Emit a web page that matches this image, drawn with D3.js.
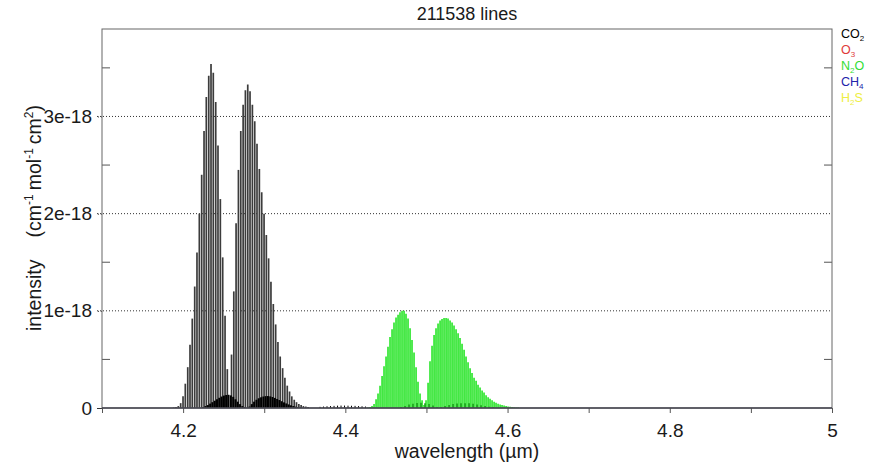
<!DOCTYPE html>
<head>
  <meta charset="utf-8">
  <script src="https://d3js.org/d3.v7.min.js"></script>
  <style>
    body { margin: 0; background: #fff; }
    text { font-family: "Liberation Sans", Arial, sans-serif; fill: #1a1a1a; }
    .tick text { font-size: 19px; }
    text.title { font-size: 18px; }
    text.axisTitle { font-size: 19.5px; }
    text.legend { font-size: 12.5px; }
    .grid line { stroke: #333; stroke-dasharray: 1,2; }
    path.domain { display: none; }
  </style>
</head>

<body>
  <script>
    // CO2 main band (R and P branch), wavelength in um, intensity in 1e-18
    const co2Wave = [4.1884, 4.1912, 4.1941, 4.1970, 4.1999, 4.2027, 4.2057, 4.2085, 4.2113, 4.2143,
      4.2171, 4.2200, 4.2229, 4.2258, 4.2286, 4.2316, 4.2344, 4.2372, 4.2402, 4.2430,
      4.2459, 4.2488, 4.2517, 4.2545,
      4.2597, 4.2625, 4.2653, 4.2682, 4.2711, 4.2740, 4.2768, 4.2797, 4.2825, 4.2854,
      4.2883, 4.2911, 4.2940, 4.2969, 4.2998, 4.3026, 4.3054, 4.3083, 4.3112, 4.3141,
      4.3169, 4.3197, 4.3227, 4.3255, 4.3284, 4.3312, 4.3340, 4.3370, 4.3398, 4.3427,
      4.3455, 4.3483, 4.3513, 4.3541];
    const co2Int = [0.005, 0.01, 0.02, 0.05, 0.12, 0.25, 0.42, 0.65, 0.92, 1.25,
      1.6, 2.0, 2.4, 2.85, 3.2, 3.42, 3.54, 3.45, 3.15, 2.7,
      2.15, 1.55, 0.95, 0.4,
      0.55, 1.2, 1.9, 2.45, 2.85, 3.12, 3.27, 3.33, 3.26, 3.12,
      2.95, 2.72, 2.46, 2.22, 2.0, 1.78, 1.54, 1.3, 1.07, 0.86,
      0.68, 0.53, 0.41, 0.31, 0.23, 0.17, 0.12, 0.085, 0.06, 0.04,
      0.03, 0.02, 0.015, 0.01];

    // CO2 hot band humps
    const co2HotWave = [4.2248, 4.2276, 4.2305, 4.2333, 4.2361, 4.2390, 4.2418, 4.2446, 4.2475, 4.2503,
      4.2531, 4.2560, 4.2588, 4.2617, 4.2645, 4.2673, 4.2702, 4.2730, 4.2758,
      4.2819, 4.2847, 4.2875, 4.2904, 4.2932, 4.2961, 4.2989, 4.3017, 4.3046, 4.3074,
      4.3102, 4.3131, 4.3159, 4.3187, 4.3216, 4.3244, 4.3272, 4.3301, 4.3329, 4.3358,
      4.3386, 4.3414, 4.3443];
    const co2HotInt = [0.01, 0.02, 0.03, 0.045, 0.06, 0.075, 0.09, 0.105, 0.118, 0.128,
      0.134, 0.136, 0.13, 0.115, 0.09, 0.065, 0.04, 0.02, 0.008,
      0.015, 0.04, 0.065, 0.085, 0.1, 0.11, 0.118, 0.122, 0.123, 0.12,
      0.113, 0.104, 0.093, 0.082, 0.07, 0.058, 0.047, 0.037, 0.028, 0.02,
      0.014, 0.009, 0.005];

    // weak CO2 lines between the bands
    const co2WeakWave = [4.3688, 4.3731, 4.3774, 4.3817, 4.3861, 4.3904, 4.3947, 4.3990, 4.4033, 4.4076,
      4.4120, 4.4163, 4.4206, 4.4249];
    const co2WeakInt = [0.012, 0.015, 0.018, 0.02, 0.022, 0.024, 0.025, 0.025, 0.024, 0.023,
      0.022, 0.02, 0.018, 0.015];

    // N2O band
    const n2oWave = [4.4280, 4.4305, 4.4329, 4.4354, 4.4379, 4.4403, 4.4428, 4.4453, 4.4477, 4.4502,
      4.4526, 4.4551, 4.4576, 4.4600, 4.4625, 4.4650, 4.4674, 4.4699, 4.4724, 4.4748,
      4.4773, 4.4798, 4.4822, 4.4847, 4.4872, 4.4896, 4.4921, 4.4946, 4.4970,
      4.4995, 4.5020, 4.5044, 4.5069, 4.5094, 4.5118, 4.5143, 4.5168, 4.5192, 4.5217,
      4.5242, 4.5266, 4.5291, 4.5316, 4.5340, 4.5365, 4.5390, 4.5414, 4.5439, 4.5464,
      4.5488, 4.5513, 4.5538, 4.5562, 4.5587, 4.5612, 4.5636, 4.5661, 4.5686, 4.5710,
      4.5735, 4.5760, 4.5784, 4.5809, 4.5834, 4.5858, 4.5883, 4.5908, 4.5932, 4.5957,
      4.5982, 4.6006, 4.6031, 4.6056, 4.6080, 4.6105, 4.6130];
    const n2oInt = [0.005, 0.01, 0.02, 0.04, 0.09, 0.15, 0.23, 0.33, 0.43, 0.53,
      0.63, 0.73, 0.81, 0.88, 0.93, 0.96, 0.985, 1.0, 1.0, 0.97,
      0.92, 0.82, 0.70, 0.57, 0.42, 0.27, 0.15, 0.08, 0.03,
      0.08, 0.26, 0.48, 0.64, 0.75, 0.82, 0.87, 0.90, 0.915, 0.925,
      0.925, 0.92, 0.90, 0.88, 0.85, 0.81, 0.77, 0.72, 0.66, 0.60,
      0.53, 0.47, 0.41, 0.36, 0.31, 0.28, 0.24, 0.21, 0.18, 0.16,
      0.13, 0.11, 0.095, 0.08, 0.065, 0.055, 0.045, 0.037, 0.03, 0.025,
      0.02, 0.016, 0.013, 0.01, 0.008, 0.006, 0.004];

    // N2O hot band humps
    const n2oHotWave = [4.4687, 4.4736, 4.4785, 4.4834, 4.4884, 4.4933, 4.4983, 4.5032, 4.5081, 4.5131,
      4.5180, 4.5229, 4.5279, 4.5328, 4.5377, 4.5426, 4.5476, 4.5525, 4.5575, 4.5624,
      4.5673, 4.5723, 4.5772, 4.5821];
    const n2oHotInt = [0.01, 0.02, 0.035, 0.045, 0.052, 0.055, 0.05, 0.04, 0.025, 0.01,
      0.01, 0.02, 0.03, 0.04, 0.046, 0.05, 0.05, 0.048, 0.043, 0.036,
      0.028, 0.02, 0.013, 0.007];

    const xTicks = [4.1, 4.2, 4.3, 4.4, 4.5, 4.6, 4.7, 4.8, 4.9, 5.0];
    const xLabels = ["", "4.2", "", "4.4", "", "4.6", "", "4.8", "", "5"];
    const yTicks = [0, 1, 2, 3];
    const yLabels = ["0", "1e-18", "2e-18", "3e-18"];
    const yMinor = [0.5, 1.5, 2.5, 3.5];

    const legendMain = ["CO", "O", "N", "CH", "H"];
    const legendSub = ["2", "3", "2", "4", "2"];
    const legendTail = ["", "", "O", "", "S"];
    const legendColors = ["#000000", "#e03a3a", "#33dd33", "#2222aa", "#eeee44"];

    const width = 873, height = 462;
    const margin = { top: 29, right: 41, bottom: 54, left: 102 };

    const svg = d3.select("body").append("svg")
      .attr("width", width)
      .attr("height", height);

    const x = d3.scaleLinear().domain([4.1, 5]).range([margin.left, width - margin.right]);
    const y = d3.scaleLinear().domain([0, 3.9]).range([height - margin.bottom, margin.top]);

    // grid lines
    svg.append("g").attr("class", "grid")
      .selectAll("line").data(yTicks.slice(1)).enter().append("line")
      .attr("x1", x(4.1) - 5).attr("x2", x(5))
      .attr("y1", d => y(d)).attr("y2", d => y(d));

    // sticks
    function sticks(cls, wave, vals, colour, w) {
      svg.append("g").attr("class", cls)
        .selectAll("line").data(wave.map((d, i) => [d, vals[i]])).enter().append("line")
        .attr("x1", d => x(d[0])).attr("x2", d => x(d[0]))
        .attr("y1", y(0)).attr("y2", d => y(d[1]))
        .style("stroke", colour)
        .style("stroke-width", w);
    }
    sticks("co2", co2Wave, co2Int, "#3c3c3c", 1.7);
    sticks("co2hot", co2HotWave, co2HotInt, "#000", 2);
    sticks("co2weak", co2WeakWave, co2WeakInt, "#000", 1);
    sticks("n2o", n2oWave, n2oInt, "#33e633", 1.7);
    sticks("n2ohot", n2oHotWave, n2oHotInt, "#1fa81f", 1.8);

    // axes
    const xAxis = d3.axisBottom(x).tickValues(xTicks).tickSize(5).tickPadding(11)
      .tickFormat((d, i) => xLabels[i]);
    const gx = svg.append("g").attr("transform", `translate(0,${y(0)})`).call(xAxis);
    gx.selectAll(".tick line").style("stroke", "#555");

    const yAxis = d3.axisLeft(y).tickValues(yTicks).tickSize(5).tickPadding(5)
      .tickFormat((d, i) => yLabels[i]);
    const gy = svg.append("g").attr("transform", `translate(${x(4.1)},0)`).call(yAxis);
    gy.selectAll(".tick line")
      .style("stroke", "#333")
      .style("stroke-dasharray", d => d === 0 ? null : "1,2");

    // minor y ticks inside both sides
    svg.append("g").selectAll("line").data(yMinor).enter().append("line")
      .attr("x1", x(4.1)).attr("x2", x(4.1) + 8)
      .attr("y1", d => y(d)).attr("y2", d => y(d))
      .style("stroke", "#555");
    svg.append("g").selectAll("line").data(yMinor).enter().append("line")
      .attr("x1", x(5)).attr("x2", x(5) - 8)
      .attr("y1", d => y(d)).attr("y2", d => y(d))
      .style("stroke", "#555");

    // frame
    svg.append("rect")
      .attr("x", x(4.1)).attr("y", y(3.9))
      .attr("width", x(5) - x(4.1)).attr("height", y(0) - y(3.9))
      .style("fill", "none").style("stroke", "#666").style("stroke-width", 1);
    svg.append("line")
      .attr("x1", x(4.1)).attr("x2", x(5)).attr("y1", y(0)).attr("y2", y(0))
      .style("stroke", "#45454f").style("stroke-width", 1.6);

    // titles
    svg.append("text").attr("class", "title")
      .attr("x", (x(4.1) + x(5)) / 2).attr("y", 20)
      .style("text-anchor", "middle")
      .text("211538 lines");

    svg.append("text").attr("class", "axisTitle")
      .attr("x", (x(4.1) + x(5)) / 2).attr("y", 458)
      .style("text-anchor", "middle")
      .text("wavelength (\u00b5m)");

    const yt = svg.append("text").attr("class", "axisTitle")
      .attr("transform", "translate(41,218) rotate(-90)")
      .style("text-anchor", "middle");
    yt.append("tspan").text("intensity");
    yt.append("tspan").attr("dx", 22).text("(cm");
    yt.append("tspan").attr("dy", -8).style("font-size", "12px").text("-1");
    yt.append("tspan").attr("dy", 8).attr("dx", 4).text("mol");
    yt.append("tspan").attr("dy", -8).style("font-size", "12px").text("-1");
    yt.append("tspan").attr("dy", 8).attr("dx", 4).text("cm");
    yt.append("tspan").attr("dy", -8).style("font-size", "12px").text("2");
    yt.append("tspan").attr("dy", 8).text(")");

    // legend
    legendMain.forEach((m, i) => {
      const t = svg.append("text").attr("class", "legend")
        .attr("x", 841).attr("y", 38 + i * 15.9)
        .style("fill", legendColors[i]);
      t.append("tspan").text(m);
      t.append("tspan").attr("dy", 3).style("font-size", "8px").text(legendSub[i]);
      if (legendTail[i]) t.append("tspan").attr("dy", -3).text(legendTail[i]);
    });
  </script>
</body>
